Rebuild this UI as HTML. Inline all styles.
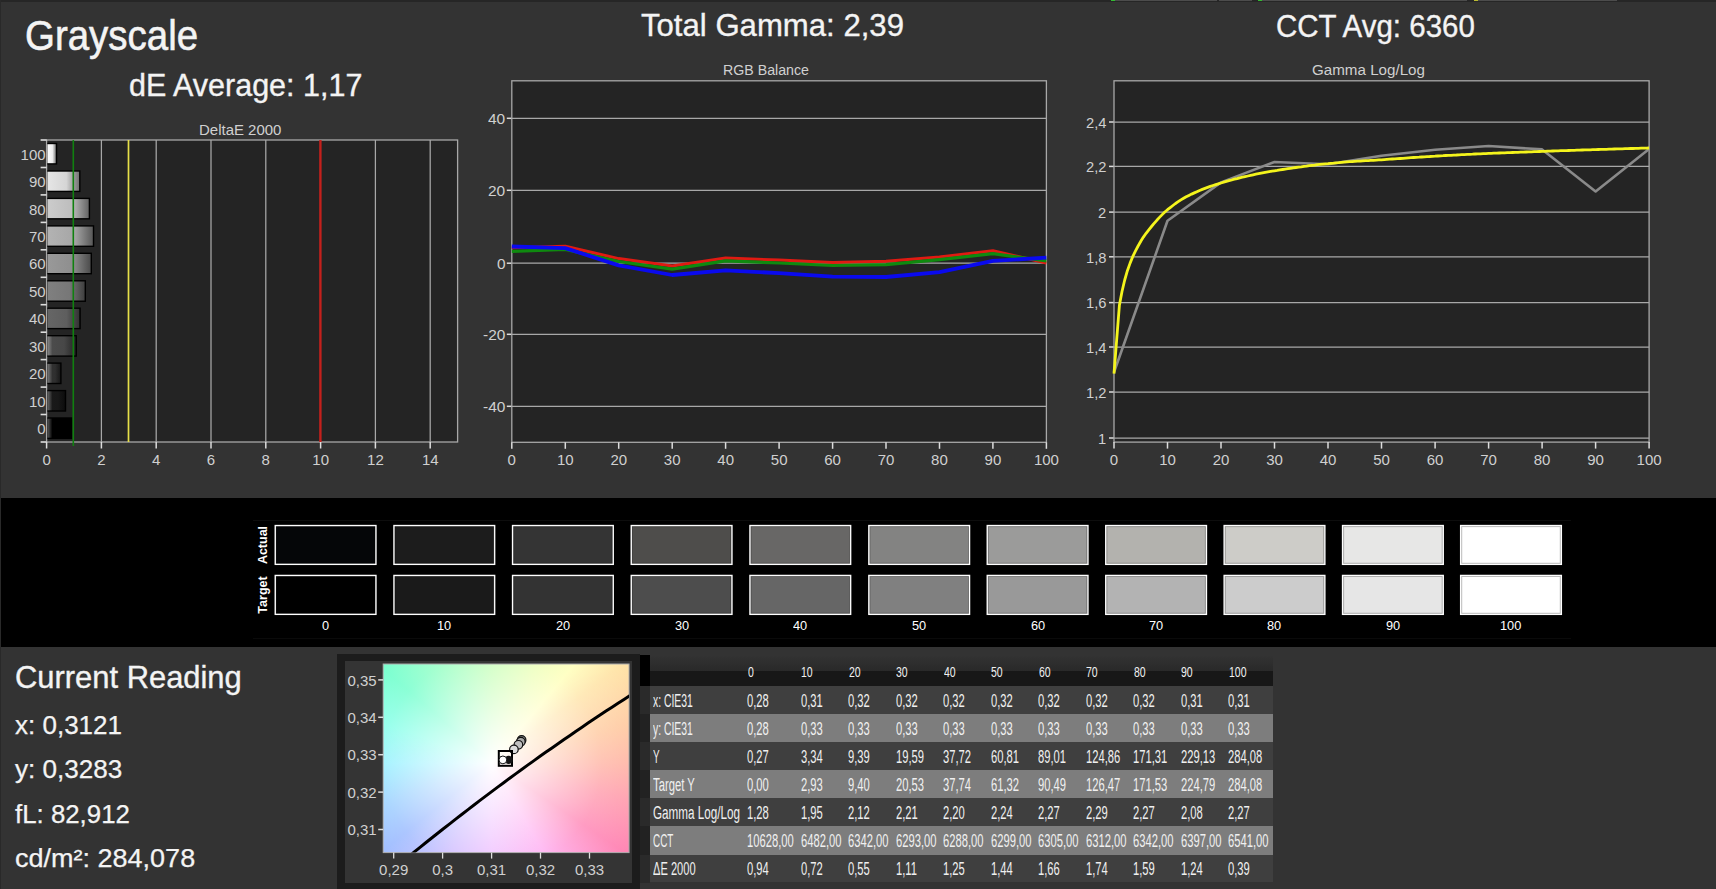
<!DOCTYPE html>
<html lang="en"><head><meta charset="utf-8"><title>Grayscale</title>
<style>
html,body{margin:0;padding:0}
body{width:1716px;height:889px;overflow:hidden;position:relative;background:#333333;font-family:"Liberation Sans",sans-serif}
.t{position:absolute;white-space:nowrap;line-height:1;transform-origin:0 0}
.a{position:absolute}
svg{position:absolute;left:0;top:0;overflow:visible}
</style></head><body>

<div class="a" style="left:0;top:0;width:1716px;height:2px;background:#262626"></div>
<div class="a" style="left:1111px;top:0;width:106px;height:1px;background:#4c4c4c"></div>
<div class="a" style="left:1219px;top:0;width:33px;height:1px;background:#4c4c4c"></div>
<div class="a" style="left:1262px;top:0;width:205px;height:1px;background:#4c4c4c"></div>
<div class="a" style="left:1478px;top:0;width:139px;height:1px;background:#4c4c4c"></div>
<div class="a" style="left:1111px;top:0;width:4px;height:1px;background:#3b3"></div>
<div class="a" style="left:1258px;top:0;width:4px;height:1px;background:#3b3"></div>
<div class="a" style="left:1474px;top:0;width:4px;height:1px;background:#bb3"></div>
<div class="t" style="left:24.5px;top:13.5px;font-size:43.30px;color:#f4f4f4;transform:scaleX(0.888);-webkit-text-stroke:0.6px #f4f4f4;">Grayscale</div>
<div class="t" style="left:129.0px;top:69.7px;font-size:30.59px;color:#f4f4f4;transform:scaleX(0.997);-webkit-text-stroke:0.35px #f4f4f4;">dE Average: 1,17</div>
<div class="t" style="left:640.5px;top:9.8px;font-size:31.84px;color:#f4f4f4;transform:scaleX(0.978);-webkit-text-stroke:0.35px #f4f4f4;">Total Gamma: 2,39</div>
<div class="t" style="left:1275.5px;top:9.9px;font-size:31.98px;color:#f4f4f4;transform:scaleX(0.922);-webkit-text-stroke:0.35px #f4f4f4;">CCT Avg: 6360</div>
<div class="t" style="left:198.5px;top:122.8px;font-size:14.39px;color:#d0d0d0;transform:scaleX(1.042);">DeltaE 2000</div>
<div class="t" style="left:722.5px;top:62.8px;font-size:14.39px;color:#d0d0d0;transform:scaleX(0.987);">RGB Balance</div>
<div class="t" style="left:1312.2px;top:62.8px;font-size:14.39px;color:#d0d0d0;transform:scaleX(1.055);">Gamma Log/Log</div>
<svg width="1716" height="497" viewBox="0 0 1716 497">
<defs>
<linearGradient id="b0" x1="0" x2="1" y1="0" y2="0"><stop offset="0" stop-color="rgb(0,0,0)"/><stop offset="0.6" stop-color="rgb(0,0,0)"/><stop offset="1" stop-color="rgb(0,0,0)"/></linearGradient>
<linearGradient id="b1" x1="0" x2="1" y1="0" y2="0"><stop offset="0" stop-color="rgb(26,26,26)"/><stop offset="0.6" stop-color="rgb(24,24,24)"/><stop offset="1" stop-color="rgb(13,13,13)"/></linearGradient>
<linearGradient id="b2" x1="0" x2="1" y1="0" y2="0"><stop offset="0" stop-color="rgb(51,51,51)"/><stop offset="0.6" stop-color="rgb(47,47,47)"/><stop offset="1" stop-color="rgb(25,25,25)"/></linearGradient>
<linearGradient id="b3" x1="0" x2="1" y1="0" y2="0"><stop offset="0" stop-color="rgb(77,77,77)"/><stop offset="0.6" stop-color="rgb(71,71,71)"/><stop offset="1" stop-color="rgb(38,38,38)"/></linearGradient>
<linearGradient id="b4" x1="0" x2="1" y1="0" y2="0"><stop offset="0" stop-color="rgb(102,102,102)"/><stop offset="0.6" stop-color="rgb(94,94,94)"/><stop offset="1" stop-color="rgb(51,51,51)"/></linearGradient>
<linearGradient id="b5" x1="0" x2="1" y1="0" y2="0"><stop offset="0" stop-color="rgb(128,128,128)"/><stop offset="0.6" stop-color="rgb(119,119,119)"/><stop offset="1" stop-color="rgb(64,64,64)"/></linearGradient>
<linearGradient id="b6" x1="0" x2="1" y1="0" y2="0"><stop offset="0" stop-color="rgb(153,153,153)"/><stop offset="0.6" stop-color="rgb(142,142,142)"/><stop offset="1" stop-color="rgb(76,76,76)"/></linearGradient>
<linearGradient id="b7" x1="0" x2="1" y1="0" y2="0"><stop offset="0" stop-color="rgb(179,179,179)"/><stop offset="0.6" stop-color="rgb(166,166,166)"/><stop offset="1" stop-color="rgb(89,89,89)"/></linearGradient>
<linearGradient id="b8" x1="0" x2="1" y1="0" y2="0"><stop offset="0" stop-color="rgb(204,204,204)"/><stop offset="0.6" stop-color="rgb(189,189,189)"/><stop offset="1" stop-color="rgb(102,102,102)"/></linearGradient>
<linearGradient id="b9" x1="0" x2="1" y1="0" y2="0"><stop offset="0" stop-color="rgb(230,230,230)"/><stop offset="0.6" stop-color="rgb(213,213,213)"/><stop offset="1" stop-color="rgb(115,115,115)"/></linearGradient>
<linearGradient id="b10" x1="0" x2="1" y1="0" y2="0"><stop offset="0" stop-color="rgb(255,255,255)"/><stop offset="0.6" stop-color="rgb(237,237,237)"/><stop offset="1" stop-color="rgb(127,127,127)"/></linearGradient>
<linearGradient id="hl" x1="0" x2="1" y1="0" y2="0"><stop offset="0" stop-color="#fff" stop-opacity="0.35"/><stop offset="1" stop-color="#fff" stop-opacity="0"/></linearGradient>
</defs>
<rect x="46.6" y="140.0" width="411.0" height="302.0" fill="#242424"/>
<line x1="101.4" y1="140.0" x2="101.4" y2="442.0" stroke="#a8a8a8" stroke-width="1.25"/>
<line x1="156.2" y1="140.0" x2="156.2" y2="442.0" stroke="#a8a8a8" stroke-width="1.25"/>
<line x1="211.0" y1="140.0" x2="211.0" y2="442.0" stroke="#a8a8a8" stroke-width="1.25"/>
<line x1="265.8" y1="140.0" x2="265.8" y2="442.0" stroke="#a8a8a8" stroke-width="1.25"/>
<line x1="375.4" y1="140.0" x2="375.4" y2="442.0" stroke="#a8a8a8" stroke-width="1.25"/>
<line x1="430.2" y1="140.0" x2="430.2" y2="442.0" stroke="#a8a8a8" stroke-width="1.25"/>
<rect x="46.6" y="140.0" width="411.0" height="302.0" fill="none" stroke="#a8a8a8" stroke-width="1.3"/>
<line x1="40.6" y1="414.5" x2="46.6" y2="414.5" stroke="#ddd" stroke-width="1.6"/>
<rect x="47.4" y="417.3" width="24.9" height="21.8" fill="#000"/>
<rect x="47.4" y="418.7" width="23.5" height="19.0" fill="url(#b0)"/>
<rect x="47.4" y="418.7" width="5" height="19.0" fill="url(#hl)"/>
<line x1="40.6" y1="387.1" x2="46.6" y2="387.1" stroke="#ddd" stroke-width="1.6"/>
<rect x="47.4" y="389.9" width="18.8" height="21.8" fill="#000"/>
<rect x="47.4" y="391.3" width="17.4" height="19.0" fill="url(#b1)"/>
<rect x="47.4" y="391.3" width="5" height="19.0" fill="url(#hl)"/>
<line x1="40.6" y1="359.6" x2="46.6" y2="359.6" stroke="#ddd" stroke-width="1.6"/>
<rect x="47.4" y="362.4" width="14.2" height="21.8" fill="#000"/>
<rect x="47.4" y="363.8" width="12.8" height="19.0" fill="url(#b2)"/>
<rect x="47.4" y="363.8" width="5" height="19.0" fill="url(#hl)"/>
<line x1="40.6" y1="332.2" x2="46.6" y2="332.2" stroke="#ddd" stroke-width="1.6"/>
<rect x="47.4" y="335.0" width="29.5" height="21.8" fill="#000"/>
<rect x="47.4" y="336.4" width="28.1" height="19.0" fill="url(#b3)"/>
<rect x="47.4" y="336.4" width="5" height="19.0" fill="url(#hl)"/>
<line x1="40.6" y1="304.7" x2="46.6" y2="304.7" stroke="#ddd" stroke-width="1.6"/>
<rect x="47.4" y="307.5" width="33.4" height="21.8" fill="#000"/>
<rect x="47.4" y="308.9" width="31.9" height="19.0" fill="url(#b4)"/>
<line x1="40.6" y1="277.3" x2="46.6" y2="277.3" stroke="#ddd" stroke-width="1.6"/>
<rect x="47.4" y="280.1" width="38.6" height="21.8" fill="#000"/>
<rect x="47.4" y="281.5" width="37.2" height="19.0" fill="url(#b5)"/>
<line x1="40.6" y1="249.8" x2="46.6" y2="249.8" stroke="#ddd" stroke-width="1.6"/>
<rect x="47.4" y="252.6" width="44.6" height="21.8" fill="#000"/>
<rect x="47.4" y="254.0" width="43.2" height="19.0" fill="url(#b6)"/>
<line x1="40.6" y1="222.4" x2="46.6" y2="222.4" stroke="#ddd" stroke-width="1.6"/>
<rect x="47.4" y="225.2" width="46.8" height="21.8" fill="#000"/>
<rect x="47.4" y="226.6" width="45.4" height="19.0" fill="url(#b7)"/>
<line x1="40.6" y1="194.9" x2="46.6" y2="194.9" stroke="#ddd" stroke-width="1.6"/>
<rect x="47.4" y="197.7" width="42.7" height="21.8" fill="#000"/>
<rect x="47.4" y="199.1" width="41.3" height="19.0" fill="url(#b8)"/>
<line x1="40.6" y1="167.5" x2="46.6" y2="167.5" stroke="#ddd" stroke-width="1.6"/>
<rect x="47.4" y="170.3" width="33.1" height="21.8" fill="#000"/>
<rect x="47.4" y="171.7" width="31.7" height="19.0" fill="url(#b9)"/>
<line x1="40.6" y1="140.0" x2="46.6" y2="140.0" stroke="#ddd" stroke-width="1.6"/>
<rect x="47.4" y="142.8" width="9.8" height="21.8" fill="#000"/>
<rect x="47.4" y="144.2" width="8.4" height="19.0" fill="url(#b10)"/>
<line x1="40.6" y1="442.0" x2="46.6" y2="442.0" stroke="#ddd" stroke-width="1.6"/>
<line x1="73.3" y1="140.0" x2="73.3" y2="446.0" stroke="#10800f" stroke-width="1.6"/>
<line x1="128.5" y1="140.0" x2="128.5" y2="442.0" stroke="#e6df48" stroke-width="1.7"/>
<line x1="320.4" y1="140.0" x2="320.4" y2="442.0" stroke="#c4201c" stroke-width="2.4"/>
<line x1="46.6" y1="442.0" x2="46.6" y2="448.5" stroke="#ddd" stroke-width="1.5"/>
<line x1="101.4" y1="442.0" x2="101.4" y2="448.5" stroke="#ddd" stroke-width="1.5"/>
<line x1="156.2" y1="442.0" x2="156.2" y2="448.5" stroke="#ddd" stroke-width="1.5"/>
<line x1="211.0" y1="442.0" x2="211.0" y2="448.5" stroke="#ddd" stroke-width="1.5"/>
<line x1="265.8" y1="442.0" x2="265.8" y2="448.5" stroke="#ddd" stroke-width="1.5"/>
<line x1="320.6" y1="442.0" x2="320.6" y2="448.5" stroke="#ddd" stroke-width="1.5"/>
<line x1="375.4" y1="442.0" x2="375.4" y2="448.5" stroke="#ddd" stroke-width="1.5"/>
<line x1="430.2" y1="442.0" x2="430.2" y2="448.5" stroke="#ddd" stroke-width="1.5"/>
<rect x="511.8" y="80.8" width="534.6" height="361.5" fill="#242424"/>
<line x1="511.8" y1="118.3" x2="1046.4" y2="118.3" stroke="#a8a8a8" stroke-width="1.25"/>
<line x1="506.8" y1="118.3" x2="511.8" y2="118.3" stroke="#ddd" stroke-width="1.5"/>
<line x1="511.8" y1="190.3" x2="1046.4" y2="190.3" stroke="#a8a8a8" stroke-width="1.25"/>
<line x1="506.8" y1="190.3" x2="511.8" y2="190.3" stroke="#ddd" stroke-width="1.5"/>
<line x1="511.8" y1="263.2" x2="1046.4" y2="263.2" stroke="#a8a8a8" stroke-width="1.25"/>
<line x1="506.8" y1="263.2" x2="511.8" y2="263.2" stroke="#ddd" stroke-width="1.5"/>
<line x1="511.8" y1="334.3" x2="1046.4" y2="334.3" stroke="#a8a8a8" stroke-width="1.25"/>
<line x1="506.8" y1="334.3" x2="511.8" y2="334.3" stroke="#ddd" stroke-width="1.5"/>
<line x1="511.8" y1="406.3" x2="1046.4" y2="406.3" stroke="#a8a8a8" stroke-width="1.25"/>
<line x1="506.8" y1="406.3" x2="511.8" y2="406.3" stroke="#ddd" stroke-width="1.5"/>
<rect x="511.8" y="80.8" width="534.6" height="361.5" fill="none" stroke="#a8a8a8" stroke-width="1.3"/>
<line x1="511.8" y1="442.3" x2="511.8" y2="448.8" stroke="#ddd" stroke-width="1.5"/>
<line x1="565.3" y1="442.3" x2="565.3" y2="448.8" stroke="#ddd" stroke-width="1.5"/>
<line x1="618.7" y1="442.3" x2="618.7" y2="448.8" stroke="#ddd" stroke-width="1.5"/>
<line x1="672.2" y1="442.3" x2="672.2" y2="448.8" stroke="#ddd" stroke-width="1.5"/>
<line x1="725.6" y1="442.3" x2="725.6" y2="448.8" stroke="#ddd" stroke-width="1.5"/>
<line x1="779.1" y1="442.3" x2="779.1" y2="448.8" stroke="#ddd" stroke-width="1.5"/>
<line x1="832.6" y1="442.3" x2="832.6" y2="448.8" stroke="#ddd" stroke-width="1.5"/>
<line x1="886.0" y1="442.3" x2="886.0" y2="448.8" stroke="#ddd" stroke-width="1.5"/>
<line x1="939.5" y1="442.3" x2="939.5" y2="448.8" stroke="#ddd" stroke-width="1.5"/>
<line x1="992.9" y1="442.3" x2="992.9" y2="448.8" stroke="#ddd" stroke-width="1.5"/>
<line x1="1046.4" y1="442.3" x2="1046.4" y2="448.8" stroke="#ddd" stroke-width="1.5"/>
<polyline points="511.8,247.7 565.3,246.3 618.7,258.6 672.2,266.0 725.6,258.0 779.1,260.1 832.6,262.4 886.0,261.2 939.5,256.9 992.9,250.7 1046.4,263.0" fill="none" stroke="#e01a12" stroke-width="3.0" stroke-linejoin="round"/>
<polyline points="511.8,251.3 565.3,249.5 618.7,261.5 672.2,269.2 725.6,260.9 779.1,263.0 832.6,265.5 886.0,264.7 939.5,259.7 992.9,253.6 1046.4,260.9" fill="none" stroke="#0f8a0f" stroke-width="3.2" stroke-linejoin="round"/>
<polyline points="511.8,246.5 565.3,248.1 618.7,265.4 672.2,275.0 725.6,270.3 779.1,273.2 832.6,276.7 886.0,277.0 939.5,272.1 992.9,260.9 1046.4,257.7" fill="none" stroke="#0a0aee" stroke-width="3.8" stroke-linejoin="round"/>
<rect x="1114.0" y="80.8" width="535.1" height="361.3" fill="#242424"/>
<line x1="1114.0" y1="438.0" x2="1649.1" y2="438.0" stroke="#a8a8a8" stroke-width="1.25"/>
<line x1="1109.0" y1="438.0" x2="1114.0" y2="438.0" stroke="#ddd" stroke-width="1.5"/>
<line x1="1114.0" y1="392.0" x2="1649.1" y2="392.0" stroke="#a8a8a8" stroke-width="1.25"/>
<line x1="1109.0" y1="392.0" x2="1114.0" y2="392.0" stroke="#ddd" stroke-width="1.5"/>
<line x1="1114.0" y1="347.0" x2="1649.1" y2="347.0" stroke="#a8a8a8" stroke-width="1.25"/>
<line x1="1109.0" y1="347.0" x2="1114.0" y2="347.0" stroke="#ddd" stroke-width="1.5"/>
<line x1="1114.0" y1="302.6" x2="1649.1" y2="302.6" stroke="#a8a8a8" stroke-width="1.25"/>
<line x1="1109.0" y1="302.6" x2="1114.0" y2="302.6" stroke="#ddd" stroke-width="1.5"/>
<line x1="1114.0" y1="256.8" x2="1649.1" y2="256.8" stroke="#a8a8a8" stroke-width="1.25"/>
<line x1="1109.0" y1="256.8" x2="1114.0" y2="256.8" stroke="#ddd" stroke-width="1.5"/>
<line x1="1114.0" y1="212.1" x2="1649.1" y2="212.1" stroke="#a8a8a8" stroke-width="1.25"/>
<line x1="1109.0" y1="212.1" x2="1114.0" y2="212.1" stroke="#ddd" stroke-width="1.5"/>
<line x1="1114.0" y1="166.4" x2="1649.1" y2="166.4" stroke="#a8a8a8" stroke-width="1.25"/>
<line x1="1109.0" y1="166.4" x2="1114.0" y2="166.4" stroke="#ddd" stroke-width="1.5"/>
<line x1="1114.0" y1="122.0" x2="1649.1" y2="122.0" stroke="#a8a8a8" stroke-width="1.25"/>
<line x1="1109.0" y1="122.0" x2="1114.0" y2="122.0" stroke="#ddd" stroke-width="1.5"/>
<rect x="1114.0" y="80.8" width="535.1" height="361.3" fill="none" stroke="#a8a8a8" stroke-width="1.3"/>
<line x1="1114.0" y1="442.1" x2="1114.0" y2="448.6" stroke="#ddd" stroke-width="1.5"/>
<line x1="1167.5" y1="442.1" x2="1167.5" y2="448.6" stroke="#ddd" stroke-width="1.5"/>
<line x1="1221.0" y1="442.1" x2="1221.0" y2="448.6" stroke="#ddd" stroke-width="1.5"/>
<line x1="1274.5" y1="442.1" x2="1274.5" y2="448.6" stroke="#ddd" stroke-width="1.5"/>
<line x1="1328.0" y1="442.1" x2="1328.0" y2="448.6" stroke="#ddd" stroke-width="1.5"/>
<line x1="1381.5" y1="442.1" x2="1381.5" y2="448.6" stroke="#ddd" stroke-width="1.5"/>
<line x1="1435.1" y1="442.1" x2="1435.1" y2="448.6" stroke="#ddd" stroke-width="1.5"/>
<line x1="1488.6" y1="442.1" x2="1488.6" y2="448.6" stroke="#ddd" stroke-width="1.5"/>
<line x1="1542.1" y1="442.1" x2="1542.1" y2="448.6" stroke="#ddd" stroke-width="1.5"/>
<line x1="1595.6" y1="442.1" x2="1595.6" y2="448.6" stroke="#ddd" stroke-width="1.5"/>
<line x1="1649.1" y1="442.1" x2="1649.1" y2="448.6" stroke="#ddd" stroke-width="1.5"/>
<polyline points="1114.0,372.2 1167.5,220.8 1221.0,182.4 1274.5,162.0 1328.0,164.3 1381.5,155.7 1435.1,149.8 1488.6,146.0 1542.1,149.4 1595.6,191.4 1649.1,148.9" fill="none" stroke="#8a8a8a" stroke-width="2.6" stroke-linejoin="round"/>
<polyline points="1114.0,373.6 1119.4,305.3 1122.0,291.5 1124.7,280.0 1127.4,270.7 1130.1,263.1 1132.7,256.7 1135.4,251.1 1138.1,246.0 1140.8,241.3 1143.4,237.1 1146.1,233.3 1148.8,229.8 1151.5,226.5 1154.1,223.4 1156.8,220.3 1159.5,217.4 1162.2,214.6 1164.8,212.0 1167.5,209.7 1170.2,207.6 1172.9,205.5 1175.5,203.5 1178.2,201.7 1180.9,199.9 1183.6,198.3 1186.2,196.8 1188.9,195.4 1191.6,194.1 1194.3,192.9 1196.9,191.7 1199.6,190.5 1202.3,189.4 1205.0,188.4 1207.6,187.4 1210.3,186.4 1213.0,185.5 1215.7,184.6 1218.3,183.8 1221.0,183.0 1223.7,182.2 1226.4,181.4 1229.0,180.7 1231.7,180.0 1234.4,179.2 1237.1,178.6 1239.7,177.9 1242.4,177.2 1245.1,176.6 1247.8,176.0 1250.5,175.4 1253.1,174.8 1255.8,174.2 1258.5,173.7 1261.2,173.2 1263.8,172.7 1266.5,172.2 1269.2,171.7 1271.9,171.2 1274.5,170.8 1277.2,170.4 1279.9,169.9 1282.6,169.5 1285.2,169.1 1287.9,168.7 1290.6,168.3 1293.3,167.9 1295.9,167.5 1298.6,167.1 1301.3,166.8 1304.0,166.4 1306.6,166.1 1309.3,165.7 1312.0,165.4 1314.7,165.1 1317.3,164.7 1320.0,164.4 1322.7,164.1 1325.4,163.8 1328.0,163.6 1330.7,163.3 1333.4,163.1 1336.1,162.8 1338.7,162.6 1341.4,162.3 1344.1,162.1 1346.8,161.9 1349.4,161.7 1352.1,161.6 1354.8,161.4 1357.5,161.2 1360.1,161.1 1362.8,160.9 1365.5,160.7 1368.2,160.6 1370.8,160.4 1373.5,160.3 1376.2,160.1 1378.9,159.9 1381.5,159.8 1384.2,159.6 1386.9,159.4 1389.6,159.2 1392.3,159.0 1394.9,158.9 1397.6,158.7 1400.3,158.5 1403.0,158.3 1405.6,158.1 1408.3,157.9 1411.0,157.7 1413.7,157.5 1416.3,157.3 1419.0,157.2 1421.7,157.0 1424.4,156.8 1427.0,156.6 1429.7,156.5 1432.4,156.3 1435.1,156.2 1437.7,156.0 1440.4,155.8 1443.1,155.7 1445.8,155.5 1448.4,155.4 1451.1,155.3 1453.8,155.1 1456.5,155.0 1459.1,154.8 1461.8,154.7 1464.5,154.6 1467.2,154.4 1469.8,154.3 1472.5,154.2 1475.2,154.0 1477.9,153.9 1480.5,153.8 1483.2,153.7 1485.9,153.6 1488.6,153.4 1491.2,153.3 1493.9,153.2 1496.6,153.1 1499.3,153.0 1501.9,152.9 1504.6,152.8 1507.3,152.7 1510.0,152.6 1512.6,152.5 1515.3,152.4 1518.0,152.3 1520.7,152.2 1523.4,152.1 1526.0,152.0 1528.7,151.9 1531.4,151.8 1534.1,151.7 1536.7,151.6 1539.4,151.5 1542.1,151.4 1544.8,151.3 1547.4,151.2 1550.1,151.1 1552.8,151.0 1555.5,150.9 1558.1,150.8 1560.8,150.7 1563.5,150.7 1566.2,150.6 1568.8,150.5 1571.5,150.4 1574.2,150.3 1576.9,150.2 1579.5,150.1 1582.2,150.0 1584.9,149.9 1587.6,149.9 1590.2,149.8 1592.9,149.7 1595.6,149.6 1598.3,149.5 1600.9,149.4 1603.6,149.3 1606.3,149.3 1609.0,149.2 1611.6,149.1 1614.3,149.0 1617.0,148.9 1619.7,148.9 1622.3,148.8 1625.0,148.7 1627.7,148.6 1630.4,148.5 1633.0,148.5 1635.7,148.4 1638.4,148.3 1641.1,148.2 1643.7,148.2 1646.4,148.1 1649.1,148.0" fill="none" stroke="#f4f41c" stroke-width="2.8" stroke-linejoin="round"/>
</svg>
<div class="t" style="left:37.3px;top:421.2px;font-size:15.00px;color:#d0d0d0;transform:scaleX(1.000);">0</div>
<div class="t" style="left:28.9px;top:393.7px;font-size:15.00px;color:#d0d0d0;transform:scaleX(1.000);">10</div>
<div class="t" style="left:28.9px;top:366.3px;font-size:15.00px;color:#d0d0d0;transform:scaleX(1.000);">20</div>
<div class="t" style="left:28.9px;top:338.8px;font-size:15.00px;color:#d0d0d0;transform:scaleX(1.000);">30</div>
<div class="t" style="left:28.9px;top:311.4px;font-size:15.00px;color:#d0d0d0;transform:scaleX(1.000);">40</div>
<div class="t" style="left:28.9px;top:283.9px;font-size:15.00px;color:#d0d0d0;transform:scaleX(1.000);">50</div>
<div class="t" style="left:28.9px;top:256.4px;font-size:15.00px;color:#d0d0d0;transform:scaleX(1.000);">60</div>
<div class="t" style="left:28.9px;top:229.0px;font-size:15.00px;color:#d0d0d0;transform:scaleX(1.000);">70</div>
<div class="t" style="left:28.9px;top:201.5px;font-size:15.00px;color:#d0d0d0;transform:scaleX(1.000);">80</div>
<div class="t" style="left:28.9px;top:174.1px;font-size:15.00px;color:#d0d0d0;transform:scaleX(1.000);">90</div>
<div class="t" style="left:20.6px;top:146.6px;font-size:15.00px;color:#d0d0d0;transform:scaleX(1.000);">100</div>
<div class="t" style="left:42.4px;top:452.3px;font-size:15.00px;color:#d0d0d0;transform:scaleX(1.000);">0</div>
<div class="t" style="left:97.2px;top:452.3px;font-size:15.00px;color:#d0d0d0;transform:scaleX(1.000);">2</div>
<div class="t" style="left:152.0px;top:452.3px;font-size:15.00px;color:#d0d0d0;transform:scaleX(1.000);">4</div>
<div class="t" style="left:206.8px;top:452.3px;font-size:15.00px;color:#d0d0d0;transform:scaleX(1.000);">6</div>
<div class="t" style="left:261.6px;top:452.3px;font-size:15.00px;color:#d0d0d0;transform:scaleX(1.000);">8</div>
<div class="t" style="left:312.3px;top:452.3px;font-size:15.00px;color:#d0d0d0;transform:scaleX(1.000);">10</div>
<div class="t" style="left:367.1px;top:452.3px;font-size:15.00px;color:#d0d0d0;transform:scaleX(1.000);">12</div>
<div class="t" style="left:421.9px;top:452.3px;font-size:15.00px;color:#d0d0d0;transform:scaleX(1.000);">14</div>
<div class="t" style="left:488.2px;top:111.1px;font-size:15.00px;color:#d0d0d0;transform:scaleX(1.030);">40</div>
<div class="t" style="left:488.2px;top:183.1px;font-size:15.00px;color:#d0d0d0;transform:scaleX(1.030);">20</div>
<div class="t" style="left:496.8px;top:255.8px;font-size:15.00px;color:#d0d0d0;transform:scaleX(1.030);">0</div>
<div class="t" style="left:483.1px;top:327.1px;font-size:15.00px;color:#d0d0d0;transform:scaleX(1.030);">-20</div>
<div class="t" style="left:483.1px;top:399.1px;font-size:15.00px;color:#d0d0d0;transform:scaleX(1.030);">-40</div>
<div class="t" style="left:507.6px;top:452.2px;font-size:15.00px;color:#d0d0d0;transform:scaleX(1.000);">0</div>
<div class="t" style="left:556.9px;top:452.2px;font-size:15.00px;color:#d0d0d0;transform:scaleX(1.000);">10</div>
<div class="t" style="left:610.4px;top:452.2px;font-size:15.00px;color:#d0d0d0;transform:scaleX(1.000);">20</div>
<div class="t" style="left:663.8px;top:452.2px;font-size:15.00px;color:#d0d0d0;transform:scaleX(1.000);">30</div>
<div class="t" style="left:717.3px;top:452.2px;font-size:15.00px;color:#d0d0d0;transform:scaleX(1.000);">40</div>
<div class="t" style="left:770.8px;top:452.2px;font-size:15.00px;color:#d0d0d0;transform:scaleX(1.000);">50</div>
<div class="t" style="left:824.2px;top:452.2px;font-size:15.00px;color:#d0d0d0;transform:scaleX(1.000);">60</div>
<div class="t" style="left:877.7px;top:452.2px;font-size:15.00px;color:#d0d0d0;transform:scaleX(1.000);">70</div>
<div class="t" style="left:931.1px;top:452.2px;font-size:15.00px;color:#d0d0d0;transform:scaleX(1.000);">80</div>
<div class="t" style="left:984.6px;top:452.2px;font-size:15.00px;color:#d0d0d0;transform:scaleX(1.000);">90</div>
<div class="t" style="left:1033.9px;top:452.2px;font-size:15.00px;color:#d0d0d0;transform:scaleX(1.000);">100</div>
<div class="t" style="left:1098.4px;top:430.8px;font-size:15.00px;color:#d0d0d0;transform:scaleX(0.980);">1</div>
<div class="t" style="left:1086.2px;top:384.8px;font-size:15.00px;color:#d0d0d0;transform:scaleX(0.980);">1,2</div>
<div class="t" style="left:1086.2px;top:339.8px;font-size:15.00px;color:#d0d0d0;transform:scaleX(0.980);">1,4</div>
<div class="t" style="left:1086.2px;top:295.4px;font-size:15.00px;color:#d0d0d0;transform:scaleX(0.980);">1,6</div>
<div class="t" style="left:1086.2px;top:249.6px;font-size:15.00px;color:#d0d0d0;transform:scaleX(0.980);">1,8</div>
<div class="t" style="left:1098.4px;top:204.9px;font-size:15.00px;color:#d0d0d0;transform:scaleX(0.980);">2</div>
<div class="t" style="left:1086.2px;top:159.2px;font-size:15.00px;color:#d0d0d0;transform:scaleX(0.980);">2,2</div>
<div class="t" style="left:1086.2px;top:114.8px;font-size:15.00px;color:#d0d0d0;transform:scaleX(0.980);">2,4</div>
<div class="t" style="left:1109.8px;top:452.2px;font-size:15.00px;color:#d0d0d0;transform:scaleX(1.000);">0</div>
<div class="t" style="left:1159.2px;top:452.2px;font-size:15.00px;color:#d0d0d0;transform:scaleX(1.000);">10</div>
<div class="t" style="left:1212.7px;top:452.2px;font-size:15.00px;color:#d0d0d0;transform:scaleX(1.000);">20</div>
<div class="t" style="left:1266.2px;top:452.2px;font-size:15.00px;color:#d0d0d0;transform:scaleX(1.000);">30</div>
<div class="t" style="left:1319.7px;top:452.2px;font-size:15.00px;color:#d0d0d0;transform:scaleX(1.000);">40</div>
<div class="t" style="left:1373.2px;top:452.2px;font-size:15.00px;color:#d0d0d0;transform:scaleX(1.000);">50</div>
<div class="t" style="left:1426.7px;top:452.2px;font-size:15.00px;color:#d0d0d0;transform:scaleX(1.000);">60</div>
<div class="t" style="left:1480.2px;top:452.2px;font-size:15.00px;color:#d0d0d0;transform:scaleX(1.000);">70</div>
<div class="t" style="left:1533.7px;top:452.2px;font-size:15.00px;color:#d0d0d0;transform:scaleX(1.000);">80</div>
<div class="t" style="left:1587.2px;top:452.2px;font-size:15.00px;color:#d0d0d0;transform:scaleX(1.000);">90</div>
<div class="t" style="left:1636.6px;top:452.2px;font-size:15.00px;color:#d0d0d0;transform:scaleX(1.000);">100</div>
<div class="a" style="left:0;top:498px;width:1716px;height:148.5px;background:#000"></div>
<div class="a" style="left:253px;top:520px;width:1318px;height:1px;background:#0d0d0d"></div>
<div class="a" style="left:253px;top:638px;width:1318px;height:1px;background:#0a0a0a"></div>
<svg width="1716" height="889" viewBox="0 0 1716 889">
<rect x="275.3" y="525.6" width="100.6" height="38.7" fill="#050608" stroke="#fff" stroke-width="1.5"/>
<rect x="276.3" y="526.6" width="98.6" height="36.7" fill="none" stroke="#000" stroke-opacity="0.27" stroke-width="1"/>
<rect x="275.3" y="575.5" width="100.6" height="38.8" fill="#000000" stroke="#fff" stroke-width="1.5"/>
<rect x="276.3" y="576.5" width="98.6" height="36.8" fill="none" stroke="#000" stroke-opacity="0.27" stroke-width="1"/>
<rect x="394.0" y="525.6" width="100.6" height="38.7" fill="#1c1c1c" stroke="#fff" stroke-width="1.5"/>
<rect x="395.0" y="526.6" width="98.6" height="36.7" fill="none" stroke="#000" stroke-opacity="0.27" stroke-width="1"/>
<rect x="394.0" y="575.5" width="100.6" height="38.8" fill="#1a1a1a" stroke="#fff" stroke-width="1.5"/>
<rect x="395.0" y="576.5" width="98.6" height="36.8" fill="none" stroke="#000" stroke-opacity="0.27" stroke-width="1"/>
<rect x="512.6" y="525.6" width="100.6" height="38.7" fill="#343434" stroke="#fff" stroke-width="1.5"/>
<rect x="513.6" y="526.6" width="98.6" height="36.7" fill="none" stroke="#000" stroke-opacity="0.27" stroke-width="1"/>
<rect x="512.6" y="575.5" width="100.6" height="38.8" fill="#333333" stroke="#fff" stroke-width="1.5"/>
<rect x="513.6" y="576.5" width="98.6" height="36.8" fill="none" stroke="#000" stroke-opacity="0.27" stroke-width="1"/>
<rect x="631.3" y="525.6" width="100.6" height="38.7" fill="#4e4d4b" stroke="#fff" stroke-width="1.5"/>
<rect x="632.3" y="526.6" width="98.6" height="36.7" fill="none" stroke="#000" stroke-opacity="0.27" stroke-width="1"/>
<rect x="631.3" y="575.5" width="100.6" height="38.8" fill="#4d4d4d" stroke="#fff" stroke-width="1.5"/>
<rect x="632.3" y="576.5" width="98.6" height="36.8" fill="none" stroke="#000" stroke-opacity="0.27" stroke-width="1"/>
<rect x="750.0" y="525.6" width="100.6" height="38.7" fill="#686766" stroke="#fff" stroke-width="1.5"/>
<rect x="751.0" y="526.6" width="98.6" height="36.7" fill="none" stroke="#000" stroke-opacity="0.27" stroke-width="1"/>
<rect x="750.0" y="575.5" width="100.6" height="38.8" fill="#666666" stroke="#fff" stroke-width="1.5"/>
<rect x="751.0" y="576.5" width="98.6" height="36.8" fill="none" stroke="#000" stroke-opacity="0.27" stroke-width="1"/>
<rect x="868.9" y="525.6" width="100.6" height="38.7" fill="#838382" stroke="#fff" stroke-width="1.5"/>
<rect x="869.9" y="526.6" width="98.6" height="36.7" fill="none" stroke="#000" stroke-opacity="0.27" stroke-width="1"/>
<rect x="868.9" y="575.5" width="100.6" height="38.8" fill="#808080" stroke="#fff" stroke-width="1.5"/>
<rect x="869.9" y="576.5" width="98.6" height="36.8" fill="none" stroke="#000" stroke-opacity="0.27" stroke-width="1"/>
<rect x="987.3" y="525.6" width="100.6" height="38.7" fill="#9b9b9a" stroke="#fff" stroke-width="1.5"/>
<rect x="988.3" y="526.6" width="98.6" height="36.7" fill="none" stroke="#000" stroke-opacity="0.27" stroke-width="1"/>
<rect x="987.3" y="575.5" width="100.6" height="38.8" fill="#999999" stroke="#fff" stroke-width="1.5"/>
<rect x="988.3" y="576.5" width="98.6" height="36.8" fill="none" stroke="#000" stroke-opacity="0.27" stroke-width="1"/>
<rect x="1105.8" y="525.6" width="100.6" height="38.7" fill="#b3b2ae" stroke="#fff" stroke-width="1.5"/>
<rect x="1106.8" y="526.6" width="98.6" height="36.7" fill="none" stroke="#000" stroke-opacity="0.27" stroke-width="1"/>
<rect x="1105.8" y="575.5" width="100.6" height="38.8" fill="#b3b3b3" stroke="#fff" stroke-width="1.5"/>
<rect x="1106.8" y="576.5" width="98.6" height="36.8" fill="none" stroke="#000" stroke-opacity="0.27" stroke-width="1"/>
<rect x="1224.2" y="525.6" width="100.6" height="38.7" fill="#cdccc8" stroke="#fff" stroke-width="1.5"/>
<rect x="1225.2" y="526.6" width="98.6" height="36.7" fill="none" stroke="#000" stroke-opacity="0.27" stroke-width="1"/>
<rect x="1224.2" y="575.5" width="100.6" height="38.8" fill="#cccccc" stroke="#fff" stroke-width="1.5"/>
<rect x="1225.2" y="576.5" width="98.6" height="36.8" fill="none" stroke="#000" stroke-opacity="0.27" stroke-width="1"/>
<rect x="1342.6" y="525.6" width="100.6" height="38.7" fill="#e7e7e6" stroke="#fff" stroke-width="1.5"/>
<rect x="1343.6" y="526.6" width="98.6" height="36.7" fill="none" stroke="#000" stroke-opacity="0.27" stroke-width="1"/>
<rect x="1342.6" y="575.5" width="100.6" height="38.8" fill="#e6e6e6" stroke="#fff" stroke-width="1.5"/>
<rect x="1343.6" y="576.5" width="98.6" height="36.8" fill="none" stroke="#000" stroke-opacity="0.27" stroke-width="1"/>
<rect x="1460.7" y="525.6" width="100.6" height="38.7" fill="#ffffff" stroke="#fff" stroke-width="1.5"/>
<rect x="1461.7" y="526.6" width="98.6" height="36.7" fill="none" stroke="#000" stroke-opacity="0.27" stroke-width="1"/>
<rect x="1460.7" y="575.5" width="100.6" height="38.8" fill="#ffffff" stroke="#fff" stroke-width="1.5"/>
<rect x="1461.7" y="576.5" width="98.6" height="36.8" fill="none" stroke="#000" stroke-opacity="0.27" stroke-width="1"/>
</svg>
<div class="t" style="left:322.0px;top:619.9px;font-size:12.20px;color:#fff;transform:scaleX(1.050);">0</div>
<div class="t" style="left:437.2px;top:619.9px;font-size:12.20px;color:#fff;transform:scaleX(1.050);">10</div>
<div class="t" style="left:555.8px;top:619.9px;font-size:12.20px;color:#fff;transform:scaleX(1.050);">20</div>
<div class="t" style="left:674.5px;top:619.9px;font-size:12.20px;color:#fff;transform:scaleX(1.050);">30</div>
<div class="t" style="left:793.2px;top:619.9px;font-size:12.20px;color:#fff;transform:scaleX(1.050);">40</div>
<div class="t" style="left:912.1px;top:619.9px;font-size:12.20px;color:#fff;transform:scaleX(1.050);">50</div>
<div class="t" style="left:1030.5px;top:619.9px;font-size:12.20px;color:#fff;transform:scaleX(1.050);">60</div>
<div class="t" style="left:1149.0px;top:619.9px;font-size:12.20px;color:#fff;transform:scaleX(1.050);">70</div>
<div class="t" style="left:1267.4px;top:619.9px;font-size:12.20px;color:#fff;transform:scaleX(1.050);">80</div>
<div class="t" style="left:1385.8px;top:619.9px;font-size:12.20px;color:#fff;transform:scaleX(1.050);">90</div>
<div class="t" style="left:1500.3px;top:619.9px;font-size:12.20px;color:#fff;transform:scaleX(1.050);">100</div>
<div class="t" style="left:256.6px;top:565px;font-size:12.5px;font-weight:bold;color:#fff;transform:rotate(-90deg);transform-origin:0 0;width:40px;text-align:center">Actual</div>
<div class="t" style="left:256.6px;top:615px;font-size:12.5px;font-weight:bold;color:#fff;transform:rotate(-90deg);transform-origin:0 0;width:40px;text-align:center">Target</div>
<div class="a" style="left:0;top:0;width:1.3px;height:889px;background:#292929"></div>
<div class="t" style="left:14.6px;top:662.7px;font-size:30.73px;color:#f4f4f4;transform:scaleX(1.006);-webkit-text-stroke:0.35px #f4f4f4;">Current Reading</div>
<div class="t" style="left:14.8px;top:713.4px;font-size:25.00px;color:#f4f4f4;transform:scaleX(1.040);-webkit-text-stroke:0.25px #f4f4f4;">x: 0,3121</div>
<div class="t" style="left:14.8px;top:757.4px;font-size:24.86px;color:#f4f4f4;transform:scaleX(1.050);-webkit-text-stroke:0.25px #f4f4f4;">y: 0,3283</div>
<div class="t" style="left:14.8px;top:801.9px;font-size:25.14px;color:#f4f4f4;transform:scaleX(1.028);-webkit-text-stroke:0.25px #f4f4f4;">fL: 82,912</div>
<div class="t" style="left:14.8px;top:846.3px;font-size:25.14px;color:#f4f4f4;transform:scaleX(1.075);-webkit-text-stroke:0.25px #f4f4f4;">cd/m²: 284,078</div>
<div class="a" style="left:337.2px;top:654px;width:302.4px;height:236px;background:#1c1c1c"></div>
<div class="a" style="left:344.7px;top:661.4px;width:287.4px;height:221.7px;background:#343434"></div>
<div class="a" style="left:383.2px;top:664.0px;width:245.9px;height:188.6px;background:radial-gradient(circle at 108.8px 99.0px,rgba(255,255,255,1) 0,rgba(255,255,255,.68) 45px,rgba(255,255,255,.2) 110px,rgba(255,255,255,0) 165px),conic-gradient(from 0deg at 108.8px 99.0px,#c4ffb4 0deg,#ecffb4 25deg,#ffffb8 40deg,#ffe4a8 53deg,#ffc8a0 75deg,#ffb4a4 90deg,#ff9cac 105deg,#ff84b4 124deg,#ffa4f0 150deg,#ecb4ff 180deg,#c8b4ff 205deg,#98b8ff 231deg,#98d0ff 250deg,#90f0ff 270deg,#80ffe8 290deg,#70ffcc 311deg,#98ffc0 335deg,#c4ffb4 360deg)"></div>
<svg width="1716" height="889" viewBox="0 0 1716 889">
<defs>
<clipPath id="cp"><rect x="383.2" y="664.0" width="245.9" height="188.6"/></clipPath>
</defs>
<rect x="383.2" y="664.0" width="245.9" height="188.6" fill="none" stroke="#a9a9a9" stroke-width="1"/>
<polyline points="408.0,857.1 414.0,852.2 420.0,847.4 426.0,842.5 432.0,837.8 438.0,833.0 444.0,828.3 450.0,823.6 456.0,818.9 462.0,814.2 468.0,809.6 474.0,805.0 480.0,800.4 486.0,795.9 492.0,791.4 498.0,786.9 504.0,782.5 510.0,778.0 516.0,773.6 522.0,769.3 528.0,764.9 534.0,760.6 540.0,756.3 546.0,752.1 552.0,747.9 558.0,743.7 564.0,739.5 570.0,735.4 576.0,731.2 582.0,727.2 588.0,723.1 594.0,719.1 600.0,715.1 606.0,711.1 612.0,707.2 618.0,703.3 624.0,699.4 630.0,695.5" fill="none" stroke="#000" stroke-width="3" stroke-linejoin="round" clip-path="url(#cp)"/>
<line x1="393.7" y1="852.6" x2="393.7" y2="858.6" stroke="#ddd" stroke-width="1.3"/>
<line x1="442.6" y1="852.6" x2="442.6" y2="858.6" stroke="#ddd" stroke-width="1.3"/>
<line x1="491.6" y1="852.6" x2="491.6" y2="858.6" stroke="#ddd" stroke-width="1.3"/>
<line x1="540.5" y1="852.6" x2="540.5" y2="858.6" stroke="#ddd" stroke-width="1.3"/>
<line x1="589.5" y1="852.6" x2="589.5" y2="858.6" stroke="#ddd" stroke-width="1.3"/>
<line x1="378.2" y1="679.9" x2="383.2" y2="679.9" stroke="#ddd" stroke-width="1.5"/>
<line x1="378.2" y1="717.3" x2="383.2" y2="717.3" stroke="#ddd" stroke-width="1.5"/>
<line x1="378.2" y1="754.7" x2="383.2" y2="754.7" stroke="#ddd" stroke-width="1.5"/>
<line x1="378.2" y1="792.1" x2="383.2" y2="792.1" stroke="#ddd" stroke-width="1.5"/>
<line x1="378.2" y1="829.5" x2="383.2" y2="829.5" stroke="#ddd" stroke-width="1.5"/>
<circle cx="521.6" cy="739.9" r="4.3" fill="#888" stroke="#111" stroke-width="1.2"/>
<circle cx="520.8" cy="741.7" r="4.3" fill="#aaa" stroke="#111" stroke-width="1.2"/>
<circle cx="518.4" cy="744.8" r="4.3" fill="#c0c0c0" stroke="#111" stroke-width="1.2"/>
<circle cx="513.9" cy="749.4" r="4.3" fill="#dcdcdc" stroke="#111" stroke-width="1.2"/>
<rect x="498.8" y="751" width="13.2" height="14.8" fill="none" stroke="#000" stroke-width="2"/>
<circle cx="508.6" cy="759.9" r="4.2" fill="#141414"/>
<circle cx="502.9" cy="759.9" r="3.9" fill="#fff" stroke="#111" stroke-width="1"/>
</svg>
<div class="t" style="left:347.4px;top:672.6px;font-size:15.00px;color:#d0d0d0;transform:scaleX(1.000);">0,35</div>
<div class="t" style="left:347.4px;top:710.0px;font-size:15.00px;color:#d0d0d0;transform:scaleX(1.000);">0,34</div>
<div class="t" style="left:347.4px;top:747.4px;font-size:15.00px;color:#d0d0d0;transform:scaleX(1.000);">0,33</div>
<div class="t" style="left:347.4px;top:784.8px;font-size:15.00px;color:#d0d0d0;transform:scaleX(1.000);">0,32</div>
<div class="t" style="left:347.4px;top:822.2px;font-size:15.00px;color:#d0d0d0;transform:scaleX(1.000);">0,31</div>
<div class="t" style="left:379.1px;top:861.9px;font-size:15.00px;color:#d0d0d0;transform:scaleX(1.000);">0,29</div>
<div class="t" style="left:432.2px;top:861.9px;font-size:15.00px;color:#d0d0d0;transform:scaleX(1.000);">0,3</div>
<div class="t" style="left:477.0px;top:861.9px;font-size:15.00px;color:#d0d0d0;transform:scaleX(1.000);">0,31</div>
<div class="t" style="left:526.0px;top:861.9px;font-size:15.00px;color:#d0d0d0;transform:scaleX(1.000);">0,32</div>
<div class="t" style="left:574.9px;top:861.9px;font-size:15.00px;color:#d0d0d0;transform:scaleX(1.000);">0,33</div>
<div class="a" style="left:640.3px;top:655.3px;width:9.8px;height:30.4px;background:#000"></div>
<div class="a" style="left:640.3px;top:685.7px;width:9.8px;height:197px;background:#2a2a2a"></div>
<div class="a" style="left:650.1px;top:655.3px;width:623px;height:15.6px;background:linear-gradient(#333,#292929)"></div>
<div class="a" style="left:650.1px;top:670.9px;width:623px;height:15.1px;background:#171717"></div>
<div class="t" style="left:747.5px;top:663.9px;font-size:15.20px;color:#f0f0f0;transform:scaleX(0.690);">0</div>
<div class="t" style="left:801.1px;top:663.9px;font-size:15.20px;color:#f0f0f0;transform:scaleX(0.690);">10</div>
<div class="t" style="left:848.6px;top:663.9px;font-size:15.20px;color:#f0f0f0;transform:scaleX(0.690);">20</div>
<div class="t" style="left:896.2px;top:663.9px;font-size:15.20px;color:#f0f0f0;transform:scaleX(0.690);">30</div>
<div class="t" style="left:943.7px;top:663.9px;font-size:15.20px;color:#f0f0f0;transform:scaleX(0.690);">40</div>
<div class="t" style="left:991.2px;top:663.9px;font-size:15.20px;color:#f0f0f0;transform:scaleX(0.690);">50</div>
<div class="t" style="left:1038.8px;top:663.9px;font-size:15.20px;color:#f0f0f0;transform:scaleX(0.690);">60</div>
<div class="t" style="left:1086.3px;top:663.9px;font-size:15.20px;color:#f0f0f0;transform:scaleX(0.690);">70</div>
<div class="t" style="left:1133.8px;top:663.9px;font-size:15.20px;color:#f0f0f0;transform:scaleX(0.690);">80</div>
<div class="t" style="left:1181.3px;top:663.9px;font-size:15.20px;color:#f0f0f0;transform:scaleX(0.690);">90</div>
<div class="t" style="left:1228.9px;top:663.9px;font-size:15.20px;color:#f0f0f0;transform:scaleX(0.690);">100</div>
<div class="a" style="left:650.1px;top:686.0px;width:623px;height:28.1px;background:#3f3f3f"></div>
<div class="t" style="left:652.6px;top:693.0px;font-size:17.60px;color:#f0f0f0;transform:scaleX(0.590);">x: CIE31</div>
<div class="t" style="left:747.0px;top:693.0px;font-size:17.60px;color:#f0f0f0;transform:scaleX(0.637);">0,28</div>
<div class="t" style="left:800.6px;top:693.0px;font-size:17.60px;color:#f0f0f0;transform:scaleX(0.637);">0,31</div>
<div class="t" style="left:848.1px;top:693.0px;font-size:17.60px;color:#f0f0f0;transform:scaleX(0.637);">0,32</div>
<div class="t" style="left:895.7px;top:693.0px;font-size:17.60px;color:#f0f0f0;transform:scaleX(0.637);">0,32</div>
<div class="t" style="left:943.2px;top:693.0px;font-size:17.60px;color:#f0f0f0;transform:scaleX(0.637);">0,32</div>
<div class="t" style="left:990.7px;top:693.0px;font-size:17.60px;color:#f0f0f0;transform:scaleX(0.637);">0,32</div>
<div class="t" style="left:1038.2px;top:693.0px;font-size:17.60px;color:#f0f0f0;transform:scaleX(0.637);">0,32</div>
<div class="t" style="left:1085.8px;top:693.0px;font-size:17.60px;color:#f0f0f0;transform:scaleX(0.637);">0,32</div>
<div class="t" style="left:1133.3px;top:693.0px;font-size:17.60px;color:#f0f0f0;transform:scaleX(0.637);">0,32</div>
<div class="t" style="left:1180.8px;top:693.0px;font-size:17.60px;color:#f0f0f0;transform:scaleX(0.637);">0,31</div>
<div class="t" style="left:1228.4px;top:693.0px;font-size:17.60px;color:#f0f0f0;transform:scaleX(0.637);">0,31</div>
<div class="a" style="left:650.1px;top:714.1px;width:623px;height:28.0px;background:#7d7d7d"></div>
<div class="a" style="left:640.3px;top:714.1px;width:9.8px;height:28.0px;background:#222"></div>
<div class="t" style="left:652.6px;top:721.1px;font-size:17.60px;color:#f0f0f0;transform:scaleX(0.590);">y: CIE31</div>
<div class="t" style="left:747.0px;top:721.1px;font-size:17.60px;color:#f0f0f0;transform:scaleX(0.637);">0,28</div>
<div class="t" style="left:800.6px;top:721.1px;font-size:17.60px;color:#f0f0f0;transform:scaleX(0.637);">0,33</div>
<div class="t" style="left:848.1px;top:721.1px;font-size:17.60px;color:#f0f0f0;transform:scaleX(0.637);">0,33</div>
<div class="t" style="left:895.7px;top:721.1px;font-size:17.60px;color:#f0f0f0;transform:scaleX(0.637);">0,33</div>
<div class="t" style="left:943.2px;top:721.1px;font-size:17.60px;color:#f0f0f0;transform:scaleX(0.637);">0,33</div>
<div class="t" style="left:990.7px;top:721.1px;font-size:17.60px;color:#f0f0f0;transform:scaleX(0.637);">0,33</div>
<div class="t" style="left:1038.2px;top:721.1px;font-size:17.60px;color:#f0f0f0;transform:scaleX(0.637);">0,33</div>
<div class="t" style="left:1085.8px;top:721.1px;font-size:17.60px;color:#f0f0f0;transform:scaleX(0.637);">0,33</div>
<div class="t" style="left:1133.3px;top:721.1px;font-size:17.60px;color:#f0f0f0;transform:scaleX(0.637);">0,33</div>
<div class="t" style="left:1180.8px;top:721.1px;font-size:17.60px;color:#f0f0f0;transform:scaleX(0.637);">0,33</div>
<div class="t" style="left:1228.4px;top:721.1px;font-size:17.60px;color:#f0f0f0;transform:scaleX(0.637);">0,33</div>
<div class="a" style="left:650.1px;top:742.1px;width:623px;height:28.1px;background:#3f3f3f"></div>
<div class="t" style="left:652.6px;top:749.2px;font-size:17.60px;color:#f0f0f0;transform:scaleX(0.562);">Y</div>
<div class="t" style="left:747.0px;top:749.2px;font-size:17.60px;color:#f0f0f0;transform:scaleX(0.637);">0,27</div>
<div class="t" style="left:800.6px;top:749.2px;font-size:17.60px;color:#f0f0f0;transform:scaleX(0.637);">3,34</div>
<div class="t" style="left:848.1px;top:749.2px;font-size:17.60px;color:#f0f0f0;transform:scaleX(0.637);">9,39</div>
<div class="t" style="left:895.7px;top:749.2px;font-size:17.60px;color:#f0f0f0;transform:scaleX(0.637);">19,59</div>
<div class="t" style="left:943.2px;top:749.2px;font-size:17.60px;color:#f0f0f0;transform:scaleX(0.637);">37,72</div>
<div class="t" style="left:990.7px;top:749.2px;font-size:17.60px;color:#f0f0f0;transform:scaleX(0.637);">60,81</div>
<div class="t" style="left:1038.2px;top:749.2px;font-size:17.60px;color:#f0f0f0;transform:scaleX(0.637);">89,01</div>
<div class="t" style="left:1085.8px;top:749.2px;font-size:17.60px;color:#f0f0f0;transform:scaleX(0.637);">124,86</div>
<div class="t" style="left:1133.3px;top:749.2px;font-size:17.60px;color:#f0f0f0;transform:scaleX(0.637);">171,31</div>
<div class="t" style="left:1180.8px;top:749.2px;font-size:17.60px;color:#f0f0f0;transform:scaleX(0.637);">229,13</div>
<div class="t" style="left:1228.4px;top:749.2px;font-size:17.60px;color:#f0f0f0;transform:scaleX(0.637);">284,08</div>
<div class="a" style="left:650.1px;top:770.2px;width:623px;height:28.1px;background:#7d7d7d"></div>
<div class="a" style="left:640.3px;top:770.2px;width:9.8px;height:28.1px;background:#222"></div>
<div class="t" style="left:652.6px;top:777.3px;font-size:17.60px;color:#f0f0f0;transform:scaleX(0.641);">Target Y</div>
<div class="t" style="left:747.0px;top:777.3px;font-size:17.60px;color:#f0f0f0;transform:scaleX(0.637);">0,00</div>
<div class="t" style="left:800.6px;top:777.3px;font-size:17.60px;color:#f0f0f0;transform:scaleX(0.637);">2,93</div>
<div class="t" style="left:848.1px;top:777.3px;font-size:17.60px;color:#f0f0f0;transform:scaleX(0.637);">9,40</div>
<div class="t" style="left:895.7px;top:777.3px;font-size:17.60px;color:#f0f0f0;transform:scaleX(0.637);">20,53</div>
<div class="t" style="left:943.2px;top:777.3px;font-size:17.60px;color:#f0f0f0;transform:scaleX(0.637);">37,74</div>
<div class="t" style="left:990.7px;top:777.3px;font-size:17.60px;color:#f0f0f0;transform:scaleX(0.637);">61,32</div>
<div class="t" style="left:1038.2px;top:777.3px;font-size:17.60px;color:#f0f0f0;transform:scaleX(0.637);">90,49</div>
<div class="t" style="left:1085.8px;top:777.3px;font-size:17.60px;color:#f0f0f0;transform:scaleX(0.637);">126,47</div>
<div class="t" style="left:1133.3px;top:777.3px;font-size:17.60px;color:#f0f0f0;transform:scaleX(0.637);">171,53</div>
<div class="t" style="left:1180.8px;top:777.3px;font-size:17.60px;color:#f0f0f0;transform:scaleX(0.637);">224,79</div>
<div class="t" style="left:1228.4px;top:777.3px;font-size:17.60px;color:#f0f0f0;transform:scaleX(0.637);">284,08</div>
<div class="a" style="left:650.1px;top:798.3px;width:623px;height:28.1px;background:#3f3f3f"></div>
<div class="t" style="left:652.6px;top:805.4px;font-size:17.60px;color:#f0f0f0;transform:scaleX(0.664);">Gamma Log/Log</div>
<div class="t" style="left:747.0px;top:805.4px;font-size:17.60px;color:#f0f0f0;transform:scaleX(0.637);">1,28</div>
<div class="t" style="left:800.6px;top:805.4px;font-size:17.60px;color:#f0f0f0;transform:scaleX(0.637);">1,95</div>
<div class="t" style="left:848.1px;top:805.4px;font-size:17.60px;color:#f0f0f0;transform:scaleX(0.637);">2,12</div>
<div class="t" style="left:895.7px;top:805.4px;font-size:17.60px;color:#f0f0f0;transform:scaleX(0.637);">2,21</div>
<div class="t" style="left:943.2px;top:805.4px;font-size:17.60px;color:#f0f0f0;transform:scaleX(0.637);">2,20</div>
<div class="t" style="left:990.7px;top:805.4px;font-size:17.60px;color:#f0f0f0;transform:scaleX(0.637);">2,24</div>
<div class="t" style="left:1038.2px;top:805.4px;font-size:17.60px;color:#f0f0f0;transform:scaleX(0.637);">2,27</div>
<div class="t" style="left:1085.8px;top:805.4px;font-size:17.60px;color:#f0f0f0;transform:scaleX(0.637);">2,29</div>
<div class="t" style="left:1133.3px;top:805.4px;font-size:17.60px;color:#f0f0f0;transform:scaleX(0.637);">2,27</div>
<div class="t" style="left:1180.8px;top:805.4px;font-size:17.60px;color:#f0f0f0;transform:scaleX(0.637);">2,08</div>
<div class="t" style="left:1228.4px;top:805.4px;font-size:17.60px;color:#f0f0f0;transform:scaleX(0.637);">2,27</div>
<div class="a" style="left:650.1px;top:826.4px;width:623px;height:28.4px;background:#7d7d7d"></div>
<div class="a" style="left:640.3px;top:826.4px;width:9.8px;height:28.4px;background:#222"></div>
<div class="t" style="left:652.6px;top:832.5px;font-size:17.60px;color:#f0f0f0;transform:scaleX(0.561);">CCT</div>
<div class="t" style="left:747.0px;top:832.5px;font-size:17.60px;color:#f0f0f0;transform:scaleX(0.637);">10628,00</div>
<div class="t" style="left:800.6px;top:832.5px;font-size:17.60px;color:#f0f0f0;transform:scaleX(0.637);">6482,00</div>
<div class="t" style="left:848.1px;top:832.5px;font-size:17.60px;color:#f0f0f0;transform:scaleX(0.637);">6342,00</div>
<div class="t" style="left:895.7px;top:832.5px;font-size:17.60px;color:#f0f0f0;transform:scaleX(0.637);">6293,00</div>
<div class="t" style="left:943.2px;top:832.5px;font-size:17.60px;color:#f0f0f0;transform:scaleX(0.637);">6288,00</div>
<div class="t" style="left:990.7px;top:832.5px;font-size:17.60px;color:#f0f0f0;transform:scaleX(0.637);">6299,00</div>
<div class="t" style="left:1038.2px;top:832.5px;font-size:17.60px;color:#f0f0f0;transform:scaleX(0.637);">6305,00</div>
<div class="t" style="left:1085.8px;top:832.5px;font-size:17.60px;color:#f0f0f0;transform:scaleX(0.637);">6312,00</div>
<div class="t" style="left:1133.3px;top:832.5px;font-size:17.60px;color:#f0f0f0;transform:scaleX(0.637);">6342,00</div>
<div class="t" style="left:1180.8px;top:832.5px;font-size:17.60px;color:#f0f0f0;transform:scaleX(0.637);">6397,00</div>
<div class="t" style="left:1228.4px;top:832.5px;font-size:17.60px;color:#f0f0f0;transform:scaleX(0.637);">6541,00</div>
<div class="a" style="left:650.1px;top:854.8px;width:623px;height:27.1px;background:#3f3f3f"></div>
<div class="t" style="left:652.6px;top:860.7px;font-size:17.60px;color:#f0f0f0;transform:scaleX(0.631);">ΔE 2000</div>
<div class="t" style="left:747.0px;top:860.7px;font-size:17.60px;color:#f0f0f0;transform:scaleX(0.637);">0,94</div>
<div class="t" style="left:800.6px;top:860.7px;font-size:17.60px;color:#f0f0f0;transform:scaleX(0.637);">0,72</div>
<div class="t" style="left:848.1px;top:860.7px;font-size:17.60px;color:#f0f0f0;transform:scaleX(0.637);">0,55</div>
<div class="t" style="left:895.7px;top:860.7px;font-size:17.60px;color:#f0f0f0;transform:scaleX(0.637);">1,11</div>
<div class="t" style="left:943.2px;top:860.7px;font-size:17.60px;color:#f0f0f0;transform:scaleX(0.637);">1,25</div>
<div class="t" style="left:990.7px;top:860.7px;font-size:17.60px;color:#f0f0f0;transform:scaleX(0.637);">1,44</div>
<div class="t" style="left:1038.2px;top:860.7px;font-size:17.60px;color:#f0f0f0;transform:scaleX(0.637);">1,66</div>
<div class="t" style="left:1085.8px;top:860.7px;font-size:17.60px;color:#f0f0f0;transform:scaleX(0.637);">1,74</div>
<div class="t" style="left:1133.3px;top:860.7px;font-size:17.60px;color:#f0f0f0;transform:scaleX(0.637);">1,59</div>
<div class="t" style="left:1180.8px;top:860.7px;font-size:17.60px;color:#f0f0f0;transform:scaleX(0.637);">1,24</div>
<div class="t" style="left:1228.4px;top:860.7px;font-size:17.60px;color:#f0f0f0;transform:scaleX(0.637);">0,39</div>
</body></html>
